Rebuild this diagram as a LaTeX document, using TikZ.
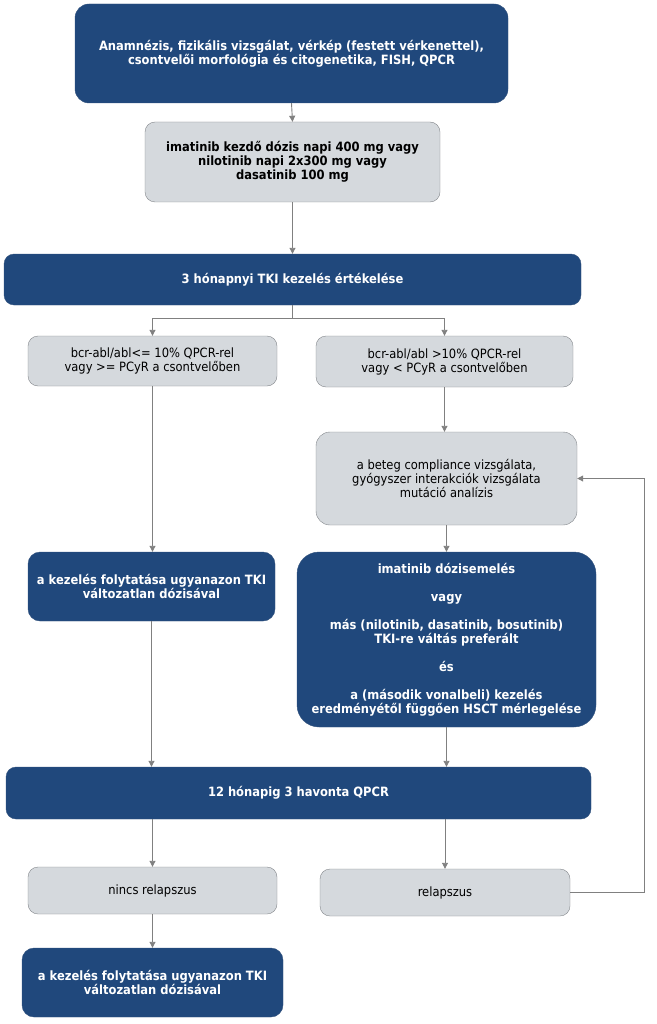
\documentclass[tikz,border=0pt]{standalone}
\usepackage{fontspec}
\setmainfont{DejaVu Sans Condensed}
\usetikzlibrary{arrows.meta}
\definecolor{dkblue}{RGB}{32,72,124}
\definecolor{ltgray}{RGB}{213,217,221}
\definecolor{bdgray}{RGB}{130,134,138}
\definecolor{lngray}{RGB}{128,128,128}
\tikzset{
  dark/.style={draw=dkblue!80!gray, fill=dkblue, text=white, rounded corners=14pt, inner sep=0pt, align=center, font=\fontsize{12.8}{14}\selectfont\bfseries},
  light/.style={draw=bdgray, fill=ltgray, text=black, rounded corners=10pt, inner sep=0pt, align=center, font=\fontsize{12.8}{14}\selectfont},
  conn/.style={draw=lngray, line width=0.9pt, -{Triangle[length=6pt,width=6pt]}},
  plain/.style={draw=lngray, line width=0.9pt}
}
\begin{document}
\begin{tikzpicture}[x=1pt,y=-1pt]
\useasboundingbox (0,0) rectangle (656,1024);
\node[dark, minimum width=433pt, minimum height=99pt] (b1) at (291.5,53.5) {Anamnézis, fizikális vizsgálat, vérkép (festett vérkenettel),\\csontvelői morfológia és citogenetika, FISH, QPCR};
\node[light, font=\fontsize{12.8}{14}\selectfont\bfseries, minimum width=295pt, minimum height=80pt] (b2) at (292.5,162) {imatinib kezdő dózis napi 400 mg vagy\\nilotinib napi 2x300 mg vagy\\dasatinib 100 mg};
\node[dark, rounded corners=10pt, minimum width=577pt, minimum height=51pt] (b3) at (292.5,279.5) {3 hónapnyi TKI kezelés értékelése};
\node[light, minimum width=249pt, minimum height=50pt] (b4) at (152.5,361) {bcr-abl/abl<= 10\% QPCR-rel\\vagy >= PCyR a csontvelőben};
\node[light, minimum width=257pt, minimum height=51pt] (b5) at (444.5,361.5) {bcr-abl/abl >10\% QPCR-rel\\vagy < PCyR a csontvelőben};
\node[light, rounded corners=14pt, minimum width=261pt, minimum height=93pt] (b6) at (446.5,478.5) {a beteg compliance vizsgálata,\\gyógyszer interakciók vizsgálata\\mutáció analízis};
\node[dark, rounded corners=12pt, minimum width=247pt, minimum height=69pt] (b7) at (151.5,586.5) {a kezelés folytatása ugyanazon TKI\\változatlan dózisával};
\node[dark, rounded corners=22pt, minimum width=299pt, minimum height=175pt] (b8) at (446.5,639.5) {imatinib dózisemelés\\[14pt]vagy\\[14pt]más (nilotinib, dasatinib, bosutinib)\\TKI-re váltás preferált\\[14pt]és\\[14pt]a (második vonalbeli) kezelés\\eredményétől függően HSCT mérlegelése};
\node[dark, rounded corners=10pt, minimum width=585pt, minimum height=52pt] (b9) at (298.5,793) {12 hónapig 3 havonta QPCR};
\node[light, minimum width=249pt, minimum height=47pt] (b10) at (152.5,890.5) {nincs relapszus};
\node[light, minimum width=250pt, minimum height=47pt] (b11) at (445,892.5) {relapszus};
\node[dark, rounded corners=12pt, minimum width=261pt, minimum height=69pt] (b12) at (152.5,982.5) {a kezelés folytatása ugyanazon TKI\\változatlan dózisával};
\coordinate (fb) at (644,0);
\draw[conn] (b1.south) -- (b2.north);
\draw[conn] (b2.south) -- (b3.north);
\draw[plain] (b3.south) -- ++(0,13) coordinate (split);
\draw[conn] (split) -| (b4.north);
\draw[conn] (split) -| (b5.north);
\draw[conn] (b4.south) -- (b4.south |- b7.north);
\draw[conn] (b5.south) -- (b5.south |- b6.north);
\draw[conn] (b6.south) -- (b6.south |- b8.north);
\draw[conn] (b7.south) -- (b7.south |- b9.north);
\draw[conn] (b8.south) -- (b8.south |- b9.north);
\draw[conn] (b10.north |- b9.south) -- (b10.north);
\draw[conn] (b11.north |- b9.south) -- (b11.north);
\draw[conn] (b10.south) -- (b10.south |- b12.north);
\draw[conn] (b11.east) -| (fb |- b6.east) -- (b6.east);
\end{tikzpicture}
\end{document}
